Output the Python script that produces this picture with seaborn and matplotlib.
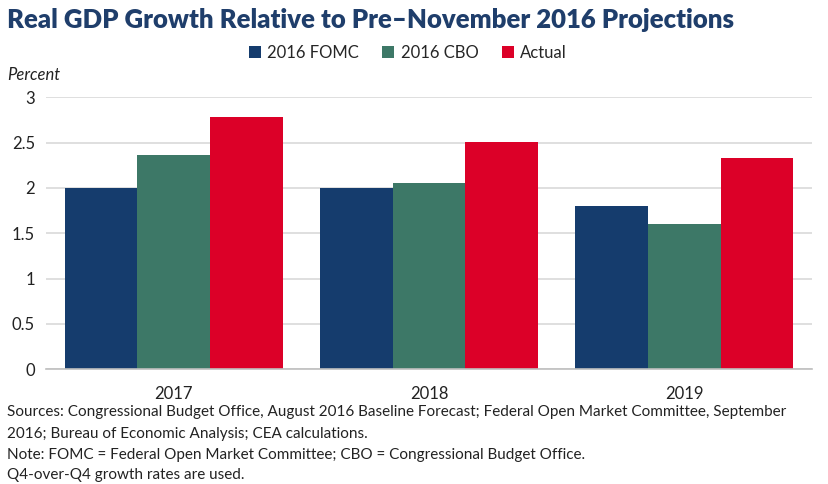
import matplotlib
matplotlib.use("Agg")
import matplotlib.pyplot as plt
import seaborn as sns
import pandas as pd

years = ["2017", "2018", "2019"]
fomc = [2.0, 2.0, 1.80]
cbo = [2.37, 2.05, 1.60]
actual = [2.78, 2.51, 2.33]
series_names = ["2016 FOMC", "2016 CBO", "Actual"]
colors = ["#153c6d", "#3d7867", "#dc0028"]

df = pd.DataFrame({
    "Year": years * 3,
    "Series": [series_names[0]] * 3 + [series_names[1]] * 3 + [series_names[2]] * 3,
    "Value": fomc + cbo + actual,
})

sns.set_theme(style="white")
plt.rcParams['font.family'] = ['Lato', 'DejaVu Sans']

fig = plt.figure(figsize=(8.29, 4.84), dpi=100)
ax = fig.add_axes([46/829, 1-369/484, (812-46)/829, (369-97.5)/484])

sns.barplot(data=df, x="Year", y="Value", hue="Series", palette=colors,
            width=0.855, ax=ax, saturation=1, legend=False, edgecolor="none")

ax.set_ylim(0, 3)
ax.set_yticks([0, 0.5, 1, 1.5, 2, 2.5, 3])
ax.set_yticklabels(["0", "0.5", "1", "1.5", "2", "2.5", "3"])
ax.yaxis.grid(True, color="#d9d9d9", linewidth=1.2)
ax.set_axisbelow(True)
for s in ["top", "right", "left"]:
    ax.spines[s].set_visible(False)
ax.spines["bottom"].set_color("#bfbfbf")
ax.spines["bottom"].set_linewidth(1.2)
ax.tick_params(axis="both", length=0, labelsize=12, colors="#222222")
ax.tick_params(axis="x", pad=12)
ax.tick_params(axis="y", pad=8)
ax.set_xlabel("")
ax.set_ylabel("")
ax.set_xlim(-0.5, 2.5)

fig.text(7/829, 1-20/484, "Real GDP Growth Relative to Pre\u2013November 2016 Projections",
         fontsize=18.5, fontweight="heavy", color="#1f3e6b", va="center", ha="left")
fig.text(7/829, 1-75/484, "Percent", fontsize=12, style="italic", color="#222222",
         va="center", ha="left")

from matplotlib.patches import Patch
handles = [Patch(facecolor=c, edgecolor="none") for c in colors]
fig.legend(handles, series_names, loc="center", bbox_to_anchor=(408/829, 1-53/484),
           ncol=3, frameon=False, fontsize=12, handlelength=0.7, handleheight=0.7,
           handletextpad=0.4, columnspacing=1.4)

footer = [
    "Sources: Congressional Budget Office, August 2016 Baseline Forecast; Federal Open Market Committee, September",
    "2016; Bureau of Economic Analysis; CEA calculations.",
    "Note: FOMC = Federal Open Market Committee; CBO = Congressional Budget Office.",
    "Q4-over-Q4 growth rates are used.",
]
ys = [412, 434, 455, 475]
for t, y in zip(footer, ys):
    fig.text(7/829, 1-y/484, t, fontsize=11, color="#222222", va="center", ha="left")

fig.savefig("out.png", dpi=100)
